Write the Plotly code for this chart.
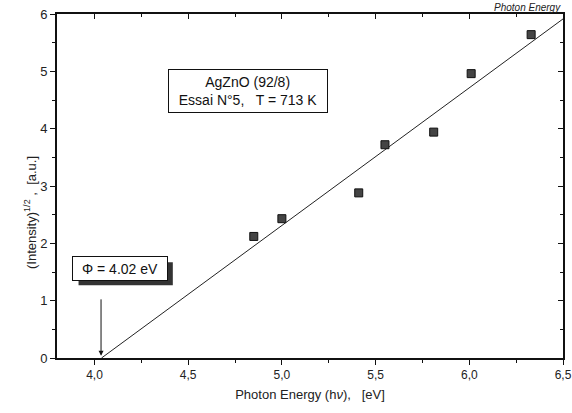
import numpy as np
import plotly.graph_objects as go

photon_energy = [4.85, 5.00, 5.41, 5.55, 5.81, 6.01, 6.33]
intensity_sqrt = [2.12, 2.43, 2.88, 3.72, 3.94, 4.96, 5.64]
phi_value = 4.02
x_range = [3.8, 6.5]
y_range = [0, 6]
x_ticks = [4.0, 4.5, 5.0, 5.5, 6.0, 6.5]
y_ticks = [0, 1, 2, 3, 4, 5, 6]

slope, icpt = np.polyfit(photon_energy, intensity_sqrt, 1)
x0 = -icpt / slope
fit_x = [x0, x_range[1]]
fit_y = [slope * x + icpt for x in fit_x]

FONT = "Liberation Sans, Arial, sans-serif"

fig = go.Figure()
fig.add_trace(go.Scatter(x=fit_x, y=fit_y, mode="lines",
                         line=dict(color="#222", width=1), showlegend=False,
                         hoverinfo="skip"))
fig.add_trace(go.Scatter(x=photon_energy, y=intensity_sqrt, mode="markers",
                         marker=dict(symbol="square", size=8, color="#444",
                                     line=dict(color="#111", width=1)),
                         showlegend=False))
# invisible trace to activate mirrored inside-tick axes
fig.add_trace(go.Scatter(x=fit_x, y=fit_y, xaxis="x2", yaxis="y2", mode="lines",
                         line=dict(width=0), opacity=0, showlegend=False,
                         hoverinfo="skip"))

axis_common = dict(showgrid=False, zeroline=False, linecolor="#111", linewidth=1.6,
                   tickcolor="#111", automargin=False)

fig.update_layout(
    width=572, height=413,
    margin=dict(l=57, r=9, t=14, b=55),
    paper_bgcolor="white", plot_bgcolor="white",
    separators=", ",
    font=dict(family=FONT, size=13, color="#222"),
    xaxis=dict(range=x_range, tickvals=x_ticks, tickformat=".1f", ticks="outside",
               ticklen=5, minor=dict(dtick=0.25, ticks="outside", ticklen=3, tickcolor="#111"),
               tickfont=dict(family=FONT, size=12, color="#222"),
               title=dict(text="Photon Energy (h<i>ν</i>),   [eV]", standoff=9,
                          font=dict(family=FONT, size=13)),
               **axis_common),
    yaxis=dict(range=y_range, tickvals=y_ticks, ticks="outside", ticklen=5,
               minor=dict(dtick=0.5, ticks="outside", ticklen=3, tickcolor="#111"),
               tickfont=dict(family=FONT, size=13, color="#222"),
               **axis_common),
    xaxis2=dict(range=x_range, overlaying="x", side="top", tickvals=x_ticks,
                showticklabels=False, ticks="inside", ticklen=5,
                minor=dict(dtick=0.25, ticks="inside", ticklen=3, tickcolor="#111"),
                **axis_common),
    yaxis2=dict(range=y_range, overlaying="y", side="right", tickvals=y_ticks,
                showticklabels=False, ticks="inside", ticklen=5,
                minor=dict(dtick=0.5, ticks="inside", ticklen=3, tickcolor="#111"),
                **axis_common),
)

# y axis title (placed slightly below centre as in the reference)
fig.add_annotation(x=-0.073, y=2.53, xref="paper", yref="y", showarrow=False,
                   textangle=-90, text="(Intensity)<sup>1/2</sup> ,  [a.u.]",
                   font=dict(family=FONT, size=13, color="#222"))

# shadow for the phi box
fig.add_shape(type="rect", xref="x", yref="y", x0=3.915, x1=4.418, y0=1.27, y1=1.67,
              fillcolor="#333", line=dict(width=0), layer="above")

fig.add_annotation(x=4.136, y=1.555, xref="x", yref="y", showarrow=False,
                   text="Φ = 4.02 eV", font=dict(family=FONT, size=14, color="#111"),
                   bgcolor="white", bordercolor="#111", borderwidth=1, borderpad=3,
                   width=88, height=17)

fig.add_annotation(x=phi_value + 0.015, y=0.04, ax=phi_value + 0.015, ay=1.18,
                   xref="x", yref="y", axref="x", ayref="y", showarrow=True,
                   arrowhead=2, arrowsize=1, arrowwidth=1, arrowcolor="#111", text=" ")

fig.add_annotation(x=4.819, y=4.66, xref="x", yref="y", showarrow=False,
                   text="AgZnO (92/8)<br>Essai N°5,   T = 713 K",
                   font=dict(family=FONT, size=14, color="#111"), align="center",
                   bgcolor="white", bordercolor="#111", borderwidth=1, borderpad=4,
                   width=150)

fig.add_annotation(x=1.0, y=1.0407, xref="paper", yref="paper", xanchor="right",
                   yanchor="top", showarrow=False, text="<i>Photon Energy</i>",
                   font=dict(family=FONT, size=10, color="#222"))

fig.write_html("out.html")
